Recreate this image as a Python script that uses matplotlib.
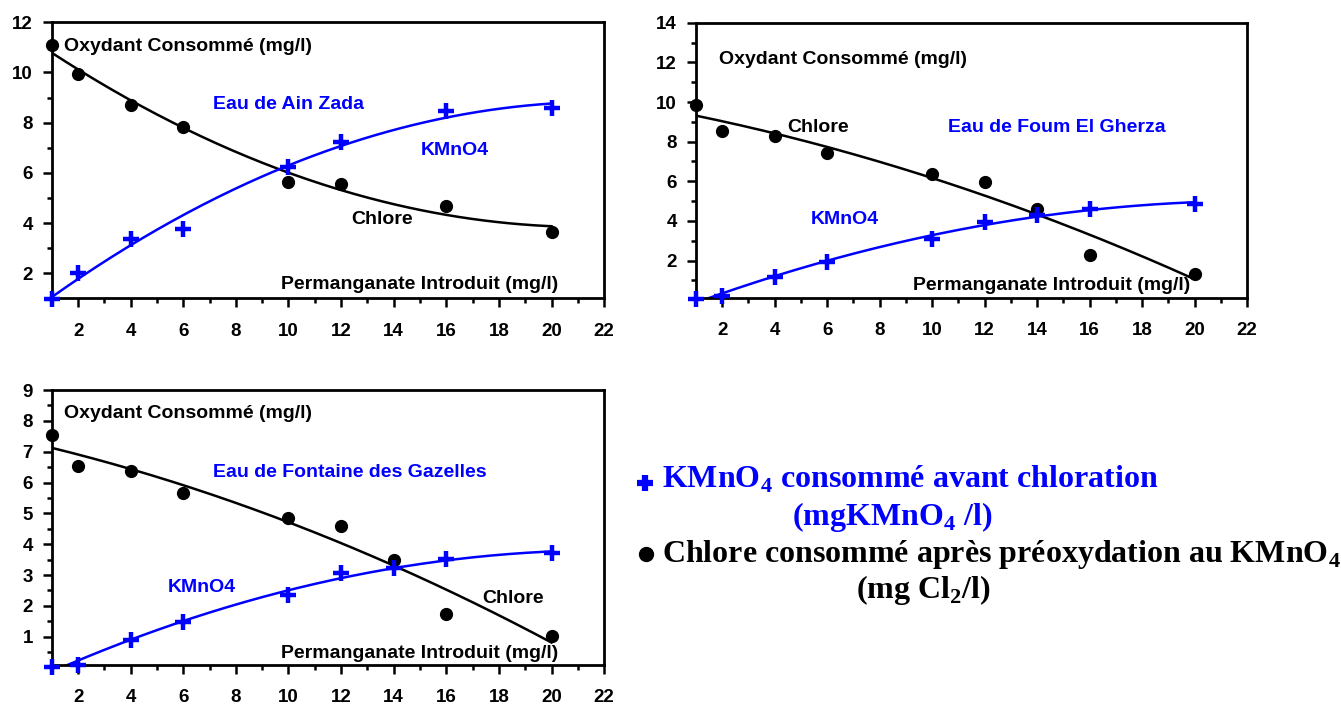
import numpy as np
import matplotlib
matplotlib.use("Agg")
import matplotlib.pyplot as plt
from matplotlib.ticker import MultipleLocator
from matplotlib.lines import Line2D

plt.rcParams["font.family"] = ["Liberation Sans", "DejaVu Sans"]
plt.rcParams["font.weight"] = "bold"

BLUE = "#0000ff"

# ===== data =====
x_ain = [1, 2, 4, 6, 10, 12, 16, 20]
chlore_ain = [11.11, 9.92, 8.72, 7.84, 5.65, 5.54, 4.69, 3.66]
kmno4_ain = [0.98, 2.0, 3.35, 3.75, 6.24, 7.24, 8.47, 8.59]

x_foum = [1, 2, 4, 6, 10, 12, 14, 16, 20]
chlore_foum = [9.85, 8.55, 8.30, 7.41, 6.35, 5.98, 4.59, 2.29, 1.33]
kmno4_foum = [0.05, 0.24, 1.16, 1.95, 3.08, 3.97, 4.30, 4.61, 4.86]

x_gaz = [1, 2, 4, 6, 10, 12, 14, 16, 20]
chlore_gaz = [7.53, 6.53, 6.37, 5.66, 4.85, 4.58, 3.49, 1.74, 1.02]
kmno4_gaz = [0.02, 0.08, 0.89, 1.49, 2.36, 3.06, 3.22, 3.53, 3.71]

LW = 1.8
FS_TXT = 14
FS_TICK = 13.5

fig = plt.figure(figsize=(13.41, 7.09), dpi=100)


def panel(rect, x, chl, kmn, ylim, ymaj, ymin, labels):
    ax = fig.add_axes(rect)
    xx = np.linspace(1, 20, 200)
    # courbes de tendance (polynome degre 2)
    ax.plot(xx, np.polyval(np.polyfit(x, chl, 2), xx), color="black", lw=LW)
    ax.plot(xx, np.polyval(np.polyfit(x, kmn, 2), xx), color=BLUE, lw=LW)
    ax.plot(x, chl, "o", color="black", ms=8.5, clip_on=False, zorder=5)
    ax.plot(x, kmn, "+", color=BLUE, ms=11, mew=3.2, clip_on=False, zorder=5)

    ax.set_xlim(1, 22)
    ax.set_ylim(*ylim)
    ax.xaxis.set_major_locator(MultipleLocator(2))
    ax.xaxis.set_minor_locator(MultipleLocator(1))
    ax.yaxis.set_major_locator(MultipleLocator(ymaj))
    ax.yaxis.set_minor_locator(MultipleLocator(ymin))
    ax.tick_params(which="major", direction="out", length=6.5, width=1.8,
                   labelsize=FS_TICK)
    ax.tick_params(which="minor", direction="out", length=3.5, width=1.8)
    ax.tick_params(axis="x", which="major", pad=11)
    ax.tick_params(axis="y", which="major", pad=7)
    for lab in ax.get_xticklabels() + ax.get_yticklabels():
        lab.set_fontweight("bold")
    for s in ax.spines.values():
        s.set_linewidth(2)

    for txt, xt, yt, col in labels:
        ax.text(xt, yt, txt, color=col, fontsize=FS_TXT, fontweight="bold",
                ha="left", va="center")
    return ax


panel([0.0386, 0.579, 0.4119, 0.3896], x_ain, chlore_ain, kmno4_ain,
      (1, 12), 2, 1,
      [("Oxydant Consommé (mg/l)", 1.45, 11.02, "black"),
       ("Eau de Ain Zada", 7.13, 8.72, BLUE),
       ("KMnO4", 15.01, 6.91, BLUE),
       ("Chlore", 12.40, 4.15, "black"),
       ("Permanganate Introduit (mg/l)", 9.72, 1.54, "black")])

panel([0.5189, 0.5801, 0.411, 0.3879], x_foum, chlore_foum, kmno4_foum,
      (0.13, 14), 2, 1,
      [("Oxydant Consommé (mg/l)", 1.88, 12.15, "black"),
       ("Chlore", 4.49, 8.71, "black"),
       ("Eau de Foum El Gherza", 10.61, 8.71, BLUE),
       ("KMnO4", 5.39, 4.05, BLUE),
       ("Permanganate Introduit (mg/l)", 9.28, 0.77, "black")])

panel([0.0386, 0.062, 0.4119, 0.3879], x_gaz, chlore_gaz, kmno4_gaz,
      (0.08, 9), 1, 0.5,
      [("Oxydant Consommé (mg/l)", 1.45, 8.23, "black"),
       ("Eau de Fontaine des Gazelles", 7.13, 6.33, BLUE),
       ("KMnO4", 5.40, 2.59, BLUE),
       ("Chlore", 17.38, 2.25, "black"),
       ("Permanganate Introduit (mg/l)", 9.72, 0.46, "black")])

# --- legende (bas droite) ---
serif = dict(family=["Liberation Serif", "DejaVu Serif"], fontweight="bold",
             fontsize=23)
W, H = 1341.0, 709.0
fig.add_artist(Line2D([645 / W], [1 - 483 / H], marker="+", color=BLUE,
                      ms=11, mew=4.5, transform=fig.transFigure))
fig.add_artist(Line2D([646 / W], [1 - 554 / H], marker="o", color="black",
                      ms=10, transform=fig.transFigure))
fig.text(662 / W, 1 - 488 / H, r"KMnO$_\mathregular{4}$ consommé avant chloration",
         color=BLUE, va="baseline", **serif)
fig.text(792 / W, 1 - 525 / H, r"(mgKMnO$_\mathregular{4}$ /l)",
         color=BLUE, va="baseline", **serif)
fig.text(662 / W, 1 - 562 / H, r"Chlore consommé après préoxydation au KMnO$_\mathregular{4}$",
         color="black", va="baseline", **serif)
fig.text(856 / W, 1 - 598 / H, r"(mg Cl$_\mathregular{2}$/l)",
         color="black", va="baseline", **serif)

fig.savefig("out.png", dpi=100)
